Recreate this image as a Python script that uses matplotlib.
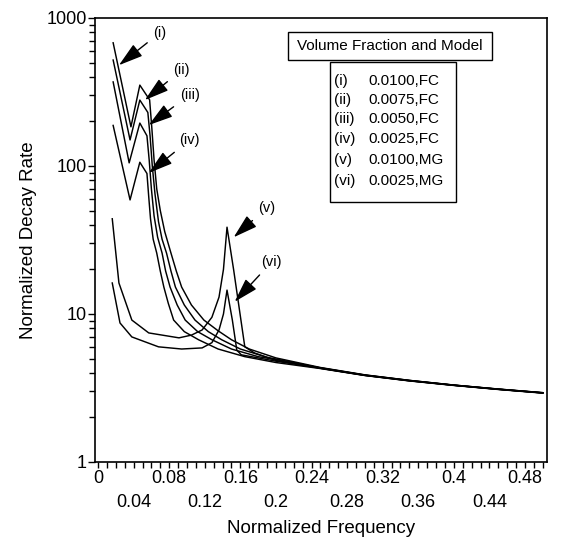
import matplotlib
matplotlib.use("Agg")
import matplotlib.pyplot as plt
from matplotlib.patches import Rectangle
from matplotlib.ticker import MultipleLocator, FixedLocator, LogLocator, NullFormatter

plt.rcParams['font.family'] = ['Liberation Sans', 'DejaVu Sans']

# ---- data ----
x_i   = [0.017, 0.037, 0.047, 0.058, 0.0605, 0.063, 0.066, 0.070, 0.075, 0.082, 0.088, 0.094, 0.105, 0.119, 0.135, 0.150, 0.17, 0.20, 0.25, 0.30, 0.35, 0.40, 0.45, 0.50]
y_i   = [680,   184,   352,   280,   180,    110,   70,    50,    36,    25.8,  19.5,  15.2,  11.5,  9.1,   7.7,   6.7,   5.8,  5.05, 4.35, 3.88, 3.56, 3.31, 3.11, 2.94]
x_ii  = [0.017, 0.036, 0.047, 0.056, 0.0585, 0.061, 0.064, 0.068, 0.072, 0.077, 0.082, 0.087, 0.097, 0.109, 0.124, 0.139, 0.16, 0.19, 0.25, 0.30, 0.35, 0.40, 0.45, 0.50]
y_ii  = [520,   150,   279,   230,   160,    100,   65,    42,    32,    25.8,  19.5,  15.2,  11.5,  9.1,   7.6,   6.7,   5.8,  5.1,  4.32, 3.86, 3.55, 3.30, 3.10, 2.93]
x_iii = [0.017, 0.035, 0.047, 0.055, 0.0575, 0.060, 0.063, 0.067, 0.072, 0.076, 0.081, 0.089, 0.098, 0.112, 0.128, 0.15, 0.18, 0.22, 0.25, 0.30, 0.35, 0.40, 0.45, 0.50]
y_iii = [370,   105,   195,   160,   110,    70,    46,    33,    25.8,  19.5,  15.2,  11.5,  9.1,   7.6,   6.7,   5.8,  5.15, 4.7,  4.3,  3.85, 3.54, 3.30, 3.10, 2.93]
x_iv  = [0.017, 0.036, 0.047, 0.055, 0.057, 0.059, 0.062, 0.066, 0.070, 0.074, 0.079, 0.085, 0.097, 0.113, 0.135, 0.165, 0.20, 0.25, 0.30, 0.35, 0.40, 0.45, 0.50]
y_iv  = [188,   59,    106,   89,    62,    44,    32,    25.8,  19.5,  15.2,  11.8,  9.1,   7.6,   6.7,   5.8,   5.15,  4.7,  4.28, 3.84, 3.53, 3.29, 3.09, 2.92]
x_v   = [0.016, 0.0235, 0.038, 0.057, 0.091, 0.105, 0.117, 0.128, 0.136, 0.141, 0.145, 0.1525, 0.165, 0.176, 0.20, 0.25, 0.30, 0.35, 0.40, 0.45, 0.50]
y_v   = [44,    16.2,   9.1,   7.45,  6.9,   7.2,   7.8,   9.5,   13,    20,    38.6,  19.8,   6.0,   5.45,  4.85, 4.33, 3.87, 3.56, 3.31, 3.11, 2.94]
x_vi  = [0.016, 0.0247, 0.038, 0.068, 0.094, 0.117, 0.128, 0.136, 0.141, 0.145, 0.151, 0.156, 0.161, 0.20, 0.25, 0.30, 0.35, 0.40, 0.45, 0.50]
y_vi  = [16.2,  8.7,    7.0,   6.0,   5.8,   5.9,   6.4,   7.8,   10,    14.5,  9.1,   5.7,   5.3,   4.8,  4.3,  3.85, 3.54, 3.30, 3.10, 2.93]

curves = [(x_i, y_i), (x_ii, y_ii), (x_iii, y_iii), (x_iv, y_iv), (x_v, y_v), (x_vi, y_vi)]

labels = ["(i)", "(ii)", "(iii)", "(iv)", "(v)", "(vi)"]
legend_values = ["0.0100,FC", "0.0075,FC", "0.0050,FC", "0.0025,FC", "0.0100,MG", "0.0025,MG"]
# arrow tip (x, y) and label position (x, y) in data units
tip_x = [0.0235, 0.0527, 0.057, 0.057, 0.1525, 0.1536]
tip_y = [480, 279, 189, 89.7, 33, 12.1]
lab_x = [0.0695, 0.094, 0.103, 0.103, 0.1895, 0.195]
lab_y = [794, 445, 302, 150, 52, 22.4]

xticks = [0, 0.04, 0.08, 0.12, 0.16, 0.2, 0.24, 0.28, 0.32, 0.36, 0.4, 0.44, 0.48]
xtick_labels = ["0", "0.04", "0.08", "0.12", "0.16", "0.2", "0.24", "0.28", "0.32", "0.36", "0.4", "0.44", "0.48"]
yticks = [1, 10, 100, 1000]
ytick_labels = ["1", "10", "100", "1000"]

W, H = 574, 538
fig = plt.figure(figsize=(W / 100, H / 100), dpi=100)
L, R, T, B = 95, 547, 18, 462
ax = fig.add_axes([L / W, 1 - B / H, (R - L) / W, (B - T) / H])

for xs, ys in curves:
    ax.plot(xs, ys, color='black', lw=1.05)

ax.set_yscale('log')
ax.set_xlim(-0.0034, 0.5047)
ax.set_ylim(1, 1000)

ax.xaxis.set_major_locator(FixedLocator(xticks))
ax.set_xticklabels([t if i % 2 == 0 else "\n" + t for i, t in enumerate(xtick_labels)],
                   fontsize=13, linespacing=1.55)
ax.xaxis.set_minor_locator(MultipleLocator(0.01))
ax.set_yticks(yticks)
ax.set_yticklabels(ytick_labels, fontsize=13)
ax.yaxis.set_minor_locator(LogLocator(base=10, subs=range(2, 10)))
ax.yaxis.set_minor_formatter(NullFormatter())
ax.tick_params(which='both', direction='out', width=1.0, color='black')
ax.tick_params(axis='x', which='major', length=4, pad=2)
ax.tick_params(axis='x', which='minor', length=4)
ax.tick_params(axis='y', which='major', length=5, pad=1)
ax.tick_params(axis='y', which='minor', length=4)
for s in ax.spines.values():
    s.set_linewidth(1.2)

ax.set_xlabel("Normalized Frequency", fontsize=13.5, labelpad=6)
ax.set_ylabel("Normalized Decay Rate", fontsize=13.5, labelpad=7)

for lab, tx, ty, lx, ly in zip(labels, tip_x, tip_y, lab_x, lab_y):
    ax.annotate(lab, xy=(tx, ty), xytext=(lx, ly), fontsize=10.5, ha='center', va='center',
                arrowprops=dict(arrowstyle='-|>,head_length=1.5,head_width=0.45',
                                mutation_scale=10, color='black', lw=1.0,
                                shrinkA=3, shrinkB=0))

def fx(px):
    return px / W

def fy(py):
    return 1 - py / H

# legend title box
fig.add_artist(Rectangle((fx(288), fy(60)), fx(492) - fx(288), fy(32) - fy(60),
                         transform=fig.transFigure, fill=False, ec='black', lw=1.0))
fig.text(fx(390), fy(46), "Volume Fraction and Model", fontsize=11, ha='center', va='center')
# legend entries box
fig.add_artist(Rectangle((fx(330), fy(202)), fx(456) - fx(330), fy(62) - fy(202),
                         transform=fig.transFigure, fill=False, ec='black', lw=1.0))
rows = [81, 100, 119, 139, 160, 181]
for lab, val, r in zip(labels, legend_values, rows):
    fig.text(fx(334), fy(r), lab, fontsize=11, ha='left', va='center')
    fig.text(fx(368), fy(r), val, fontsize=11, ha='left', va='center')

fig.savefig("out.png", dpi=100)
